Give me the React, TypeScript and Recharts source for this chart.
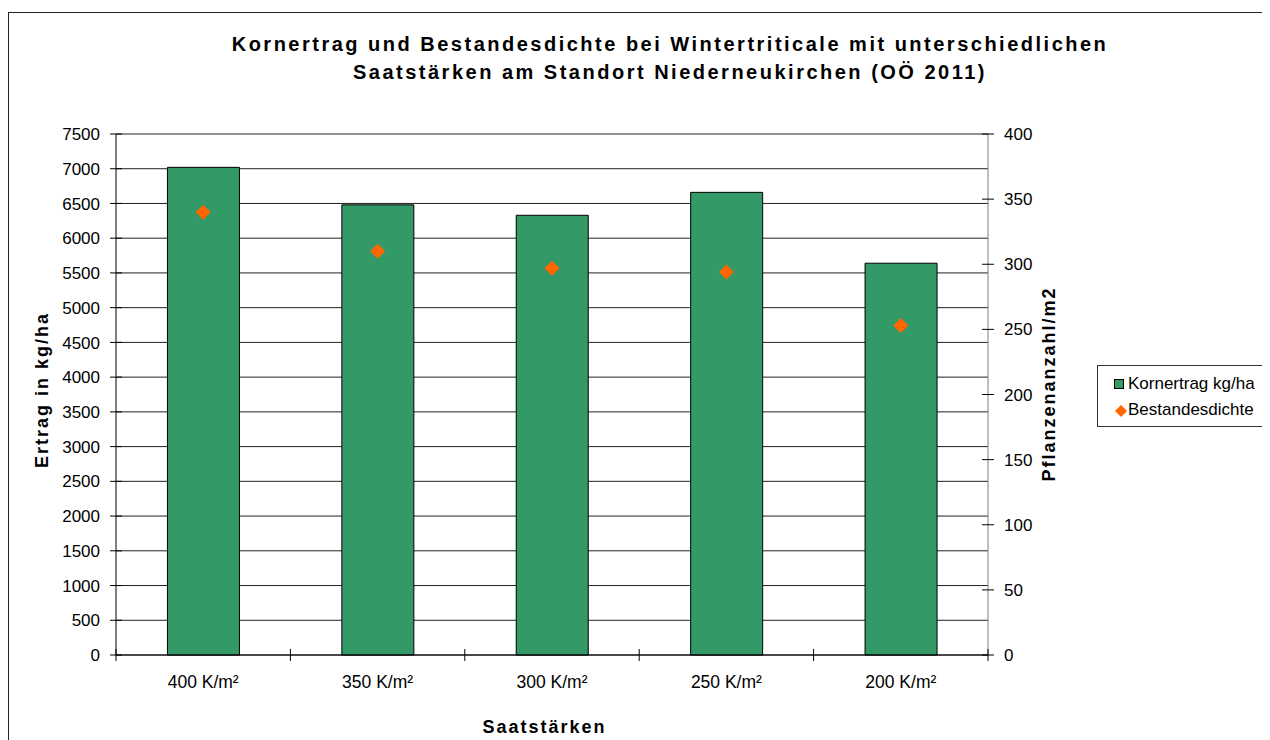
import React from "react";
import {
  ComposedChart,
  Bar,
  Scatter,
  XAxis,
  YAxis,
  CartesianGrid,
} from "recharts";

const categories = ["400 K/m²", "350 K/m²", "300 K/m²", "250 K/m²", "200 K/m²"];
const kornertrag = [7020, 6480, 6330, 6660, 5640];
const bestandesdichte = [340, 310, 297, 294, 253];
const leftTicks = [0, 500, 1000, 1500, 2000, 2500, 3000, 3500, 4000, 4500, 5000, 5500, 6000, 6500, 7000, 7500];
const rightTicks = [0, 50, 100, 150, 200, 250, 300, 350, 400];

const data = categories.map((cat, i) => ({
  cat,
  ertrag: kornertrag[i],
  dichte: bestandesdichte[i],
}));

const FONT = "'Liberation Sans', Arial, sans-serif";
const BAR_GREEN = "#339966";
const DIAMOND = "#FF6600";

const boldText: React.CSSProperties = {
  position: "absolute",
  fontFamily: FONT,
  fontWeight: "bold",
  fontSize: 18,
  letterSpacing: 2,
  color: "#000",
  whiteSpace: "nowrap",
  textAlign: "center",
};

function LeftTick(props: any) {
  const { x, y, payload } = props;
  return (
    <g>
      <line x1={x} x2={x + 12} y1={y} y2={y} stroke="#000" />
      <text x={x - 10} y={y} dy="0.36em" textAnchor="end" fontSize={17} fontFamily={FONT} fill="#000">
        {payload.value}
      </text>
    </g>
  );
}

function RightTick(props: any) {
  const { x, y, payload } = props;
  return (
    <g>
      <line x1={x - 12} x2={x} y1={y} y2={y} stroke="#000" />
      <text x={x + 10} y={y} dy="0.36em" textAnchor="start" fontSize={17} fontFamily={FONT} fill="#000">
        {payload.value}
      </text>
    </g>
  );
}

function CatTick(props: any) {
  const { x, y, payload, index } = props;
  const half = payload?.offset ?? 0;
  const last = index === categories.length - 1;
  return (
    <g>
      <line x1={x - half} x2={x - half} y1={y - 12} y2={y} stroke="#000" />
      {last && <line x1={x + half} x2={x + half} y1={y - 12} y2={y} stroke="#000" />}
      <text x={x} y={y + 27} textAnchor="middle" fontSize={17.5} fontFamily={FONT} fill="#000">
        {payload.value}
      </text>
    </g>
  );
}

function DiamondShape(props: any) {
  const { cx, cy } = props;
  if (cx == null || cy == null) return null;
  const r = 7.5;
  return (
    <polygon
      points={`${cx},${cy - r} ${cx + r},${cy} ${cx},${cy + r} ${cx - r},${cy}`}
      fill={DIAMOND}
    />
  );
}

export default function App() {
  return (
    <div style={{ position: "relative", width: 1262, height: 732, background: "#fff" }}>
      <style>{"html,body{overflow:hidden}"}</style>
      <div
        style={{
          position: "absolute",
          left: 0,
          top: 4,
          width: 1262,
          height: 728,
          borderLeft: "1px solid #222",
          borderTop: "1px solid #222",
          boxSizing: "border-box",
        }}
      />

      <div style={{ ...boldText, fontSize: 20, letterSpacing: 2.5, left: 62, width: 1200, top: 22, lineHeight: "28px" }}>
        Kornertrag und Bestandesdichte bei Wintertriticale mit unterschiedlichen
        <br />
        Saatstärken am Standort Niederneukirchen (OÖ 2011)
      </div>

      <div style={{ position: "absolute", left: 0, top: 0 }}>
        <ComposedChart
          width={1262}
          height={732}
          data={data}
          margin={{ top: 126, right: 222, left: 0, bottom: 0 }}
          barCategoryGap="29.5%"
        >
          <CartesianGrid yAxisId="left" vertical={false} stroke="#222" />
          <XAxis
            dataKey="cat"
            height={85}
            interval={0}
            axisLine={{ stroke: "#000" }}
            tickLine={false}
            tickSize={6}
            tickMargin={0}
            tick={(p: any) => <CatTick {...p} />}
          />
          <YAxis
            yAxisId="left"
            width={108}
            domain={[0, 7500]}
            ticks={leftTicks}
            interval={0}
            axisLine={{ stroke: "#000" }}
            tickLine={false}
            tickSize={6}
            tickMargin={0}
            tick={(p: any) => <LeftTick {...p} />}
          />
          <YAxis
            yAxisId="right"
            orientation="right"
            width={60}
            domain={[0, 400]}
            ticks={rightTicks}
            interval={0}
            axisLine={{ stroke: "#808080" }}
            tickLine={false}
            tickSize={6}
            tickMargin={0}
            tick={(p: any) => <RightTick {...p} />}
          />
          <Bar
            yAxisId="left"
            dataKey="ertrag"
            name="Kornertrag kg/ha"
            fill={BAR_GREEN}
            stroke="#000"
            strokeWidth={1}
            isAnimationActive={false}
          />
          <Scatter
            yAxisId="right"
            dataKey="dichte"
            name="Bestandesdichte"
            shape={(p: any) => <DiamondShape {...p} />}
            isAnimationActive={false}
          />
        </ComposedChart>
      </div>

      <div
        style={{
          ...boldText,
          width: 300,
          height: 24,
          lineHeight: "24px",
          left: 33.7 - 150,
          top: 382 - 12,
          transform: "rotate(-90deg)",
        }}
      >
        Ertrag in kg/ha
      </div>
      <div
        style={{
          ...boldText,
          width: 300,
          height: 24,
          lineHeight: "24px",
          left: 1040.6 - 150,
          top: 375.5 - 12,
          transform: "rotate(-90deg)",
        }}
      >
        Pflanzenanzahl/m2
      </div>
      <div style={{ ...boldText, width: 300, lineHeight: "24px", left: 536.5 - 150, top: 707 }}>
        Saatstärken
      </div>

      <div
        style={{
          position: "absolute",
          left: 1089,
          top: 357,
          width: 169,
          height: 62,
          border: "1px solid #333",
          boxSizing: "border-box",
          fontFamily: FONT,
          fontSize: 17,
          color: "#000",
        }}
      >
        <div style={{ position: "absolute", left: 16, top: 13, width: 10, height: 10, background: BAR_GREEN, border: "1px solid #000", boxSizing: "border-box" }} />
        <div style={{ position: "absolute", left: 30, top: 8, lineHeight: "20px", whiteSpace: "nowrap" }}>Kornertrag kg/ha</div>
        <svg style={{ position: "absolute", left: 16, top: 38 }} width={14} height={14}>
          <polygon points="7,1 13,7 7,13 1,7" fill={DIAMOND} />
        </svg>
        <div style={{ position: "absolute", left: 30, top: 34, lineHeight: "20px", whiteSpace: "nowrap" }}>Bestandesdichte</div>
      </div>
    </div>
  );
}
